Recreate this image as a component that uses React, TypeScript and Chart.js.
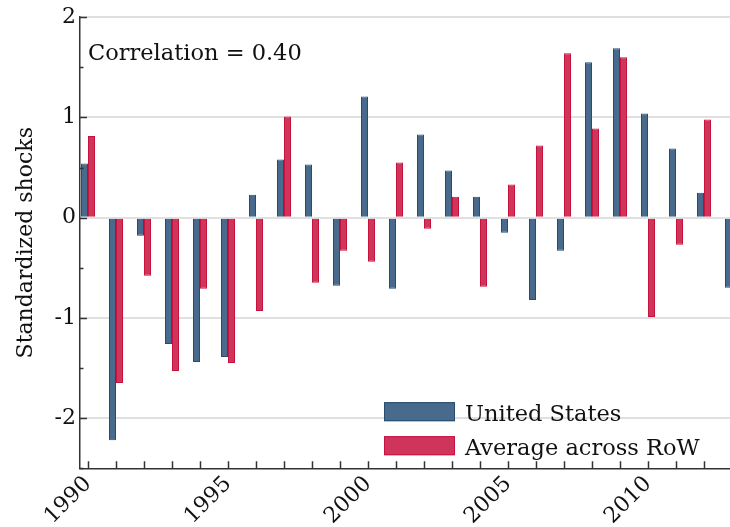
import React, { useEffect, useRef } from 'react';
import { Chart, registerables } from 'chart.js';

Chart.register(...registerables);

const years = [1990, 1991, 1992, 1993, 1994, 1995, 1996, 1997, 1998, 1999, 2000, 2001, 2002, 2003, 2004, 2005, 2006, 2007, 2008, 2009, 2010, 2011, 2012, 2013];
const unitedStates = [0.54, -2.22, -0.18, -1.26, -1.44, -1.39, 0.23, 0.58, 0.53, -0.68, 1.21, -0.71, 0.83, 0.47, 0.21, -0.15, -0.82, -0.33, 1.55, 1.69, 1.04, 0.69, 0.25, -0.70];
const averageRoW = [0.815, -1.65, -0.58, -1.53, -0.71, -1.45, -0.93, 1.01, -0.65, -0.33, -0.44, 0.55, -0.11, 0.21, -0.69, 0.33, 0.72, 1.64, 0.89, 1.60, -0.99, -0.27, 0.98, null];
const seriesNames = ['United States', 'Average across RoW'];
const correlationText = 'Correlation = 0.40';
const yAxisTitle = 'Standardized shocks';

const FONT = '"DejaVu Serif", serif';
const BLUE = 'rgb(71,106,141)';
const BLUE_BORDER = 'rgb(38,76,114)';
const RED = 'rgb(207,52,90)';
const RED_BORDER = 'rgb(200,18,62)';
const INK = '#111';

const ticksPlugin = {
  id: 'customTicks',
  afterDatasetsDraw(chart: any) {
    const { ctx, chartArea, scales } = chart;
    const x = scales.x;
    const y = scales.y;
    ctx.save();
    ctx.strokeStyle = '#333';
    ctx.lineWidth = 1.5;
    ctx.beginPath();
    for (const yr of years) {
      const px = Math.round(x.getPixelForValue(yr)) + 0.5;
      if (px < chartArea.left || px > chartArea.right) continue;
      ctx.moveTo(px, chartArea.bottom);
      ctx.lineTo(px, chartArea.bottom - 7);
    }
    for (let v = y.min; v <= y.max + 1e-9; v += 0.5) {
      const py = Math.round(y.getPixelForValue(v)) + 0.5;
      const major = Math.abs(v - Math.round(v)) < 1e-9;
      ctx.moveTo(chartArea.left, py);
      ctx.lineTo(chartArea.left + (major ? 7 : 3.5), py);
    }
    ctx.stroke();
    ctx.restore();
  },
  afterDraw(chart: any) {
    const { ctx, chartArea } = chart;
    ctx.save();
    ctx.fillStyle = INK;
    ctx.font = `22.5px ${FONT}`;
    ctx.textBaseline = 'alphabetic';
    ctx.textAlign = 'left';
    ctx.fillText(correlationText, chartArea.left + 8, chartArea.top + 43);

    const colors = [[BLUE, BLUE_BORDER], [RED, RED_BORDER]];
    const bx = chartArea.left + 304;
    const tops = [chartArea.top + 385, chartArea.top + 419];
    seriesNames.forEach((name, i) => {
      ctx.fillStyle = colors[i][0];
      ctx.fillRect(bx, tops[i], 71, 19);
      ctx.strokeStyle = colors[i][1];
      ctx.lineWidth = 1;
      ctx.strokeRect(bx + 0.5, tops[i] + 0.5, 70, 18);
      ctx.fillStyle = INK;
      ctx.font = `22.5px ${FONT}`;
      ctx.fillText(name, bx + 81, tops[i] + 19);
    });
    ctx.restore();
  },
};

export default function App() {
  const ref = useRef<HTMLCanvasElement | null>(null);
  useEffect(() => {
    if (!ref.current) return;
    const chart = new Chart(ref.current, {
      type: 'bar',
      data: {
        datasets: [
          {
            label: seriesNames[0],
            data: years.map((yr, i) => ({ x: yr, y: unitedStates[i] })),
            backgroundColor: BLUE,
            borderColor: BLUE_BORDER,
            borderWidth: 1,
            categoryPercentage: 0.5,
            barPercentage: 1,
          },
          {
            label: seriesNames[1],
            data: years.map((yr, i) => ({ x: yr, y: averageRoW[i] })),
            backgroundColor: RED,
            borderColor: RED_BORDER,
            borderWidth: 1,
            categoryPercentage: 0.5,
            barPercentage: 1,
          },
        ],
      },
      options: {
        animation: false,
        responsive: false,
        maintainAspectRatio: false,
        devicePixelRatio: 1,
        layout: { padding: { top: 12.7, left: 0, right: 0, bottom: 0 } },
        plugins: {
          legend: { display: false },
          tooltip: { enabled: false },
          title: { display: false },
        },
        scales: {
          x: {
            type: 'linear',
            min: 1990 - 8 / 28,
            max: 1990 - 8 / 28 + 650 / 28,
            offset: false,
            grid: { display: false, drawTicks: false },
            border: { display: true, color: '#333', width: 1.5 },
            ticks: {
              stepSize: 5,
              includeBounds: false,
              autoSkip: false,
              minRotation: 45,
              maxRotation: 45,
              padding: 3,
              color: INK,
              font: { family: FONT, size: 22 },
              callback: (v: any) => String(Math.round(v)),
            },
            afterFit: (s: any) => {
              s.height = 58.7;
            },
          },
          y: {
            min: -2.5,
            max: 2,
            grid: { color: '#e0e0e0', lineWidth: 2, drawTicks: false },
            border: { display: true, color: '#333', width: 1.5 },
            ticks: {
              stepSize: 1,
              includeBounds: false,
              padding: 4,
              color: INK,
              font: { family: FONT, size: 22 },
            },
            title: {
              display: true,
              text: yAxisTitle,
              color: INK,
              font: { family: FONT, size: 22 },
              padding: { top: 13, bottom: 0 },
            },
            afterFit: (s: any) => {
              s.width = 80;
            },
          },
        },
      },
      plugins: [ticksPlugin],
    } as any);
    return () => chart.destroy();
  }, []);
  return (
    <div style={{ position: 'fixed', left: 0, top: 0, width: 730, height: 527, background: '#fff' }}>
      <canvas ref={ref} width={730} height={527} style={{ display: 'block' }} />
    </div>
  );
}
